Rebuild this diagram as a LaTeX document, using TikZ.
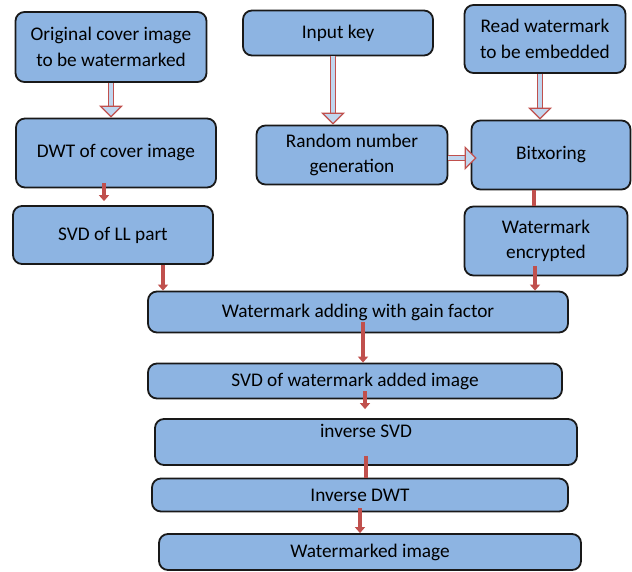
\documentclass[tikz,border=0pt]{standalone}
\usepackage{fontspec}
\setmainfont{Carlito}
\usetikzlibrary{arrows.meta}
\usetikzlibrary{positioning}
\definecolor{boxblue}{RGB}{141,180,226}
\definecolor{arrowred}{RGB}{192,80,77}

\begin{document}
\begin{tikzpicture}
  [x=1pt, y=-1pt,
  stage/.style={shape=rectangle, rounded corners=9pt, draw=black!90, fill=boxblue,
         line width=1.8pt, inner sep=3pt, align=center,
         font=\fontsize{19.3}{25.5}\selectfont},
  blockarrow/.style={draw=arrowred, line width=1.2pt, double=boxblue!55!white, double distance=4.5pt,
         -{Triangle[width=24pt, length=12pt, line width=1.2pt, fill=boxblue!55!white]}},
  redarrow/.style={draw=arrowred, line width=4pt, -{Triangle[width=10pt, length=6pt]}},
  redline/.style={draw=arrowred, line width=4pt}
  ]
  \useasboundingbox (0,0) rectangle (632,572);
 \path
   (111, 47)   node (orig)   [stage, minimum width=191pt, minimum height=70pt] {Original cover image\\to be watermarked}
   (338, 33)   node (key)    [stage, minimum width=190pt, minimum height=45pt] {Input key}
   (545, 39)   node (read)   [stage, minimum width=161pt, minimum height=68pt] {Read watermark\\to be embedded}
   (116, 153)  node (dwt)    [stage, minimum width=200pt, minimum height=69pt] {DWT of cover image}
   (352, 155)  node (rng)    [stage, minimum width=191pt, minimum height=59pt] {Random number\\generation}
   (551, 155)  node (bitxor) [stage, minimum width=159pt, minimum height=69pt] {Bitxoring}
   (113, 235)  node (svdll)  [stage, minimum width=200pt, minimum height=58pt] {SVD of LL part}
   (546, 241)  node (enc)    [stage, minimum width=163pt, minimum height=69pt] {Watermark\\encrypted}
   (358, 312)  node (adding) [stage, minimum width=420pt, minimum height=41pt] {Watermark adding with gain factor}
   (355, 381)  node (svdw)   [stage, minimum width=414pt, minimum height=35pt] {SVD of watermark added image}
   (366, 442)  node (inv)    [stage, minimum width=422pt, minimum height=46pt, text depth=23pt] {inverse SVD}
   (360, 495)  node (idwt)   [stage, minimum width=416pt, minimum height=33pt] {Inverse DWT}
   (370, 552)  node (final)  [stage, minimum width=422pt, minimum height=36pt] {Watermarked image}
   ;
   \begin{scope}
   \draw [blockarrow] (orig.south) -- (orig.south |- dwt.north);
   \draw [blockarrow] ([xshift=-5pt]key.south) -- ([xshift=-5pt]key.south |- rng.north);
   \draw [blockarrow] ([xshift=-5pt]read.south) -- ([xshift=-5pt]read.south |- bitxor.north);
   \draw [blockarrow] ([yshift=-3pt]rng.east) -- ([xshift=6pt,yshift=-3pt]rng.east -| bitxor.west);
   \end{scope}
   \begin{scope}
   \draw [redarrow] ([xshift=-12pt,yshift=5pt]dwt.south) -- ([xshift=-12pt,yshift=4pt]dwt.south |- svdll.north);
   \draw [redarrow] ([xshift=50pt]svdll.south) -- ([xshift=50pt]svdll.south |- adding.north);
   \draw [redline] ([xshift=-17pt]bitxor.south) -- ([xshift=-17pt]bitxor.south |- enc.north);
   \draw [redarrow] ([xshift=-11pt,yshift=10pt]enc.south) -- ([xshift=-11pt]enc.south |- adding.north);
   \draw [redarrow] ([xshift=5pt,yshift=11pt]adding.south) -- ([xshift=5pt]adding.south |- svdw.north);
   \draw [redarrow] ([xshift=10pt,yshift=8pt]svdw.south) -- ([xshift=10pt,yshift=9pt]svdw.south |- inv.north);
   \draw [redline] ([yshift=10pt]inv.south) -- (inv.south |- idwt.north);
   \draw [redarrow] ([yshift=4pt]idwt.south) -- (idwt.south |- final.north);
   \end{scope}

\end{tikzpicture}
\end{document}
